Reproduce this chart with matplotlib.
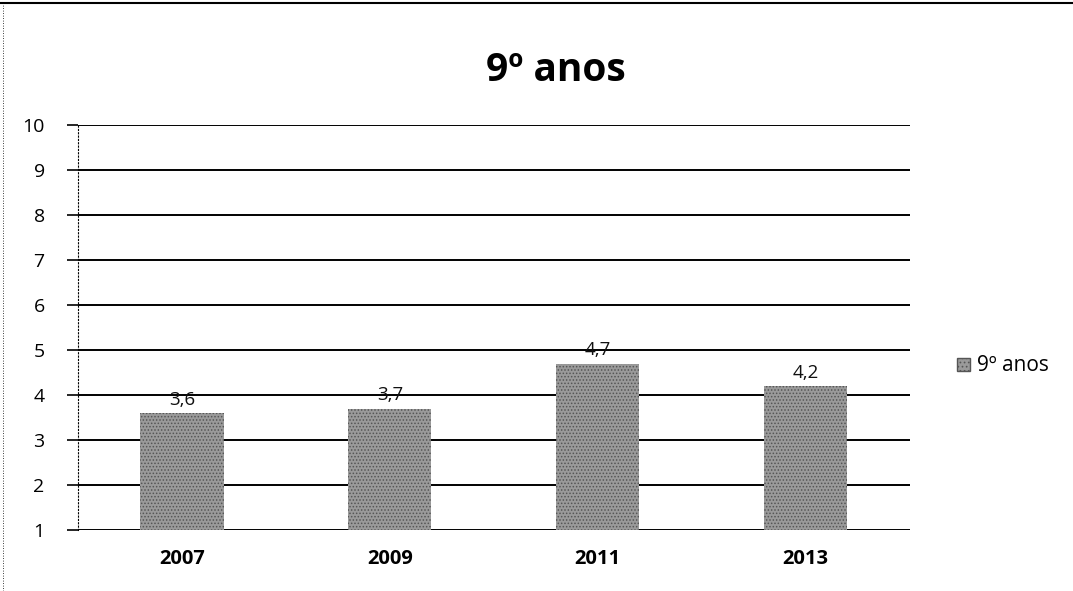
import matplotlib.pyplot as plt
from matplotlib.patches import Rectangle
from matplotlib.lines import Line2D

plt.rcParams['font.family'] = ['Open Sans', 'DejaVu Sans']
plt.rcParams['hatch.color'] = '#4a4a4a'
plt.rcParams['hatch.linewidth'] = 0.7

anos = ['2007', '2009', '2011', '2013']
notas = [3.6, 3.7, 4.7, 4.2]
rotulos = ['3,6', '3,7', '4,7', '4,2']
serie = '9º anos'

fig = plt.figure(figsize=(10.73, 5.91), dpi=100)
ax = fig.add_axes([0.0727, 0.1032, 0.775, 0.6853])

x = range(len(anos))
ax.bar(x, notas, width=0.4, color='#9a9a9a', hatch='.....',
       edgecolor='#555555', linewidth=0, zorder=3)
for xi, v, r in zip(x, notas, rotulos):
    ax.text(xi, v + 0.1, r, ha='center', va='bottom', fontsize=13.5, color='#111111')

ax.set_ylim(1, 10)
ax.set_xlim(-0.5, len(anos) - 0.5)
ax.set_yticks(range(1, 11))
ax.set_xticks(list(x))
ax.set_xticklabels(anos, fontweight='bold', fontsize=14.5)
ax.tick_params(axis='y', labelsize=14, length=8, width=1.2, color='black', pad=16)
ax.tick_params(axis='x', length=0, pad=14)
ax.grid(axis='y', color='black', linewidth=1.4, zorder=1)
for s in ['top', 'right', 'bottom']:
    ax.spines[s].set_visible(False)
ax.spines['left'].set_linestyle((0, (1, 2)))
ax.spines['left'].set_linewidth(0.8)

fig.text(0.518, 0.88, serie, ha='center', va='center', fontsize=28, fontweight='bold')

ax.legend([Rectangle((0, 0), 1, 1, facecolor='#9a9a9a', hatch='....', edgecolor='#555555')],
          [serie], loc='center left', bbox_to_anchor=(1.035, 0.405), frameon=False,
          fontsize=15, handlelength=0.6, handleheight=0.6, handletextpad=0.35)

# moldura externa
fig.add_artist(Line2D([0, 1], [0.995, 0.995], color='black', linewidth=1.5, transform=fig.transFigure))
fig.add_artist(Line2D([0.003, 0.003], [0, 0.995], color='black', linewidth=0.6,
                      linestyle=(0, (1, 2)), transform=fig.transFigure))

fig.savefig('out.png', dpi=100)
